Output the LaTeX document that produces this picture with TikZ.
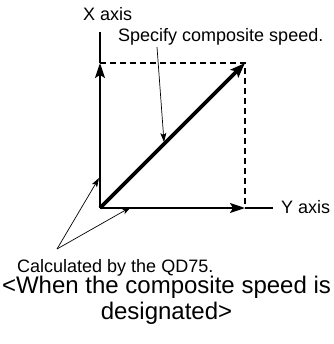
\documentclass[tikz,border=0pt]{standalone}
\usepackage{fontspec}
\setmainfont{Liberation Sans}
\usetikzlibrary{arrows.meta,positioning}

\begin{document}
\begin{tikzpicture}[x=1pt,y=-1pt,
   ax/.style={line width=1.8pt,black},
   dsh/.style={line width=1.3pt,dash pattern=on 6pt off 4pt},
   vec/.style={line width=3.6pt,-{Stealth[length=15pt,width=11pt,inset=3pt]}},
   big/.style={-{Stealth[length=15pt,width=10pt,inset=3pt]}},
   ldr/.style={line width=0.7pt,-{Stealth[length=9pt,width=6pt,inset=2pt]}},
   lbl/.style={font=\fontsize{18}{21}\selectfont,inner sep=0pt,anchor=base west},
   ttlbox/.style={font=\fontsize{24}{26}\selectfont,align=center,inner sep=0pt}]
  \useasboundingbox (0,0) rectangle (333,344);
  % axes
  \coordinate (o)  at (100,208);
  \coordinate (xt) at (100,32);
  \coordinate (xm) at (100,63);
  \coordinate (c)  at (245,63);
  \coordinate (ym) at (245,208);
  \coordinate (ye) at (273,208);
  \draw[ax,big] (o) -- (xm); \draw[ax] (xm) -- (xt);
  \draw[ax,big] (o) -- (ym); \draw[ax] (ym) -- (ye);
  \draw[dsh] (xm) -- (c) -- (ym);
  \draw[vec] (o) -- (c);
  % labels
  \node[lbl] (xl) at (83,21) {X axis};
  \node[lbl] (yl) at (281,213) {Y axis};
  \node[lbl] (sp) at (118,41.5) {Specify composite speed.};
  \node[lbl] (cl) at (17,272) {Calculated by the QD75.};
  \node[ttlbox] (ttl) at (166.5,300) {<When the composite speed is\\ designated>};
  % leaders
  \coordinate (s0) at (157,47);
  \coordinate (s1) at (164,142);
  \draw[ldr] (s0) -- (s1);
  \coordinate (q)  at (57,249);
  \coordinate (q1) at (99,178);
  \coordinate (q2) at (131,207);
  \draw[ldr] (q) -- (q1);
  \draw[ldr] (q) -- (q2);
\end{tikzpicture}
\end{document}
